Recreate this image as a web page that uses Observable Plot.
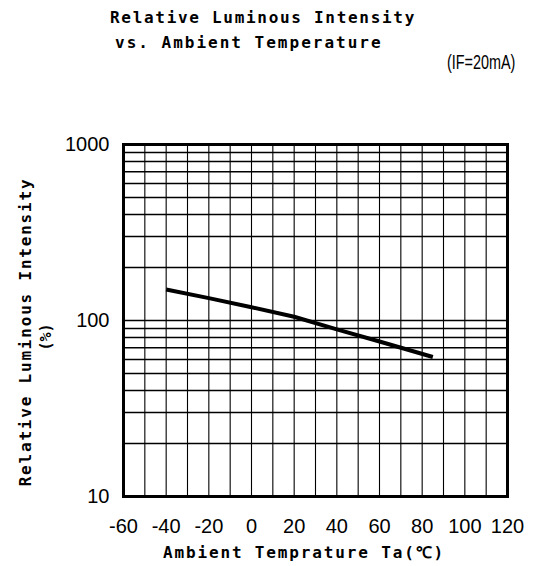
<!DOCTYPE html>
<html>
<head>
<meta charset="utf-8">
<script src="https://cdn.jsdelivr.net/npm/d3@7"></script>
<script src="https://cdn.jsdelivr.net/npm/@observablehq/plot@0.6"></script>
<style>
  html, body { margin: 0; padding: 0; background: #fff; }
  #wrap { position: relative; width: 534px; height: 566px; overflow: hidden; background: #fff; }
  .mono { position: absolute; font-family: "DejaVu Sans Mono", monospace; font-weight: bold; color: #000; white-space: nowrap; line-height: 1; z-index: 2; }
  .sans { position: absolute; font-family: "Liberation Sans", Arial, sans-serif; color: #000; white-space: nowrap; line-height: 1; z-index: 2; }
  #chart { position: absolute; left: 0; top: 100px; z-index: 1; }
</style>
</head>
<body>
<div id="wrap">
  <div id="chart"></div>
  <div class="mono" id="t1" style="left:110px; top:10px; font-size:16px; letter-spacing:1.7px;">Relative Luminous Intensity</div>
  <div class="mono" id="t2" style="left:115px; top:35px; font-size:16px; letter-spacing:2.0px;">vs. Ambient Temperature</div>
  <div class="sans" id="t3" style="left:447px; top:52px; font-size:20px; transform: scaleX(0.72); transform-origin: left center;">(IF=20mA)</div>
  <div class="mono" id="xt" style="left:163px; top:545px; font-size:16px; letter-spacing:1.85px;">Ambient Temprature Ta(℃)</div>
  <div class="mono" id="yt" style="left:26px; top:332px; font-size:16px; letter-spacing:1.8px; transform: translate(-50%,-50%) rotate(-90deg); transform-origin: center;">Relative Luminous Intensity</div>
  <div class="mono" id="yt2" style="left:46px; top:337px; font-size:15px; letter-spacing:0px; transform: translate(-50%,-50%) rotate(-90deg); transform-origin: center;">(%)</div>
</div>
<script>
// Curve: relative luminous intensity (%) vs ambient temperature (°C)
const temperature = [-40, -20, 0, 20, 40, 60, 85];
const intensity   = [150, 134, 119, 105, 89, 76, 62];

// Axis ticks and grid lines
const xTickLabels = [-60, -40, -20, 0, 20, 40, 60, 80, 100, 120];
const xGrid = [-50, -40, -30, -20, -10, 0, 10, 20, 30, 40, 50, 60, 70, 80, 90, 100, 110];
const yTickLabels = [10, 100, 1000];
const yGrid = [20, 30, 40, 50, 60, 70, 80, 90, 100, 200, 300, 400, 500, 600, 700, 800, 900];

const data = temperature.map((t, i) => ({t, v: intensity[i]}));

const plot = Plot.plot({
  width: 534,
  height: 466,
  marginTop: 44,
  marginBottom: 70,
  marginLeft: 123,
  marginRight: 27,
  style: {background: "#fff", color: "#000", fontFamily: "Liberation Sans, Arial, sans-serif"},
  x: {domain: [-60, 120]},
  y: {type: "log", domain: [10, 1000]},
  marks: [
    Plot.ruleX(xGrid, {x: d => d, stroke: "#000", strokeWidth: 1.1}),
    Plot.ruleY(yGrid, {y: d => d, stroke: "#000", strokeWidth: 1.6}),
    Plot.line(data, {x: "t", y: "v", stroke: "#000", strokeWidth: 4, strokeLinecap: "butt"}),
    Plot.frame({stroke: "#000", strokeWidth: 3}),
    Plot.axisX({ticks: xTickLabels, tickSize: 0, tickPadding: 22, fontSize: 20, label: null, tickFormat: d => String(d)}),
    Plot.axisY({ticks: yTickLabels, tickSize: 0, tickPadding: 14, fontSize: 20, label: null, tickFormat: d => String(d)})
  ]
});
document.getElementById("chart").appendChild(plot);
</script>
</body>
</html>
